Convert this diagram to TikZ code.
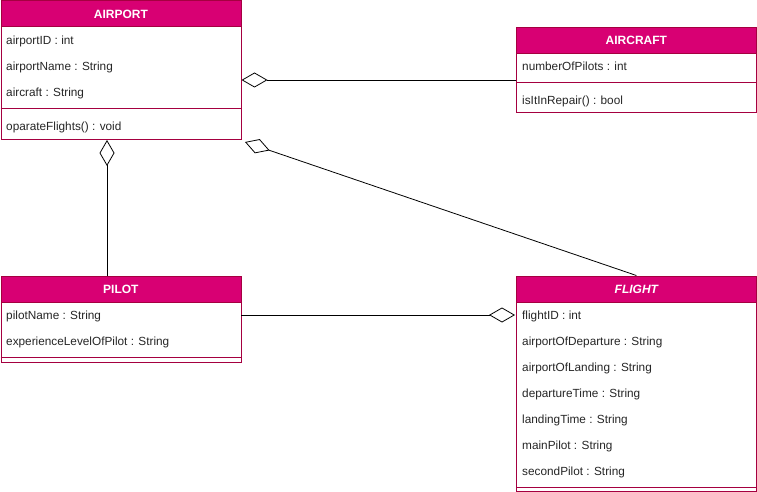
\documentclass[tikz,border=0pt]{standalone}
\usepackage{fontspec}
\setmainfont{Liberation Sans}
\usetikzlibrary{arrows.meta,calc}
\definecolor{hdrfill}{HTML}{D80073}
\definecolor{hdrline}{HTML}{A50040}
\tikzset{
  classbox/.style={draw=hdrline, line width=0.8pt, fill=white, rectangle, inner sep=0pt, anchor=north west},
  hdrbox/.style={draw=hdrline, line width=0.8pt, fill=hdrfill, rectangle, inner sep=0pt, anchor=north west, minimum width=240pt, minimum height=26pt, text=white, font=\fontsize{12}{14}\selectfont\bfseries},
  attr/.style={anchor=base west, inner sep=0pt, font=\fontsize{11.8}{13}\selectfont, text=black!85, yshift=-4.3pt},
  sepline/.style={draw=hdrline, line width=0.8pt},
  conn/.style={draw=black, line width=0.8pt},
  agg/.style={conn, {Diamond[open, length=26pt, width=15pt, line width=0.8pt]}-}
}
\begin{document}
\begin{tikzpicture}[x=1pt,y=-1pt]
\useasboundingbox (0,0) rectangle (757,492);
% AIRPORT
\node[classbox, minimum width=240pt, minimum height=138pt] (airport) at (0.5,0.5) {};
\node[hdrbox] (airportH) at (0.5,0.5) {AIRPORT};
\node[attr] (a1) at (6,40) {airportID : int};
\node[attr] (a2) at (6,66) {airportName : String};
\node[attr] (a3) at (6,92) {aircraft : String};
\draw[sepline] (0.5,108) -- (240.5,108);
\node[attr] (a4) at (6,126) {oparateFlights() : void};
% AIRCRAFT
\node[classbox, minimum width=240pt, minimum height=85pt] (aircraft) at (516,27) {};
\node[hdrbox] (aircraftH) at (516,27) {AIRCRAFT};
\node[attr] (c1) at (522,66) {numberOfPilots : int};
\draw[sepline] (516,82) -- (756,82);
\node[attr] (c2) at (522,100) {isItInRepair() : bool};
% PILOT
\node[classbox, minimum width=240pt, minimum height=86pt] (pilot) at (0.5,275.5) {};
\node[hdrbox] (pilotH) at (0.5,275.5) {PILOT};
\node[attr] (p1) at (6,315) {pilotName : String};
\node[attr] (p2) at (6,341) {experienceLevelOfPilot : String};
\draw[sepline] (0.5,357) -- (240.5,357);
% FLIGHT
\node[classbox, minimum width=240pt, minimum height=215pt] (flight) at (516,275.5) {};
\node[hdrbox, font=\fontsize{12}{14}\selectfont\bfseries\itshape] (flightH) at (516,275.5) {FLIGHT};
\node[attr] (f1) at (522,315) {flightID : int};
\node[attr] (f2) at (522,341) {airportOfDeparture : String};
\node[attr] (f3) at (522,367) {airportOfLanding : String};
\node[attr] (f4) at (522,393) {departureTime : String};
\node[attr] (f5) at (522,419) {landingTime : String};
\node[attr] (f6) at (522,445) {mainPilot : String};
\node[attr] (f7) at (522,471) {secondPilot : String};
\draw[sepline] (516,487) -- (756,487);
% connectors
\coordinate (apAc) at (241.5,80);
\coordinate (acIn) at (516,80);
\draw[agg] (apAc) -- (acIn);
\coordinate (apPi) at (107,140);
\coordinate (piIn) at (107,275.5);
\draw[agg] (apPi) -- (piIn);
\coordinate (apFl) at (245,142);
\draw[agg] (apFl) -- (flight.north);
\coordinate (piOut) at (240.5,315);
\coordinate (flIn) at (515,315);
\draw[agg] (flIn) -- (piOut);
\end{tikzpicture}
\end{document}
